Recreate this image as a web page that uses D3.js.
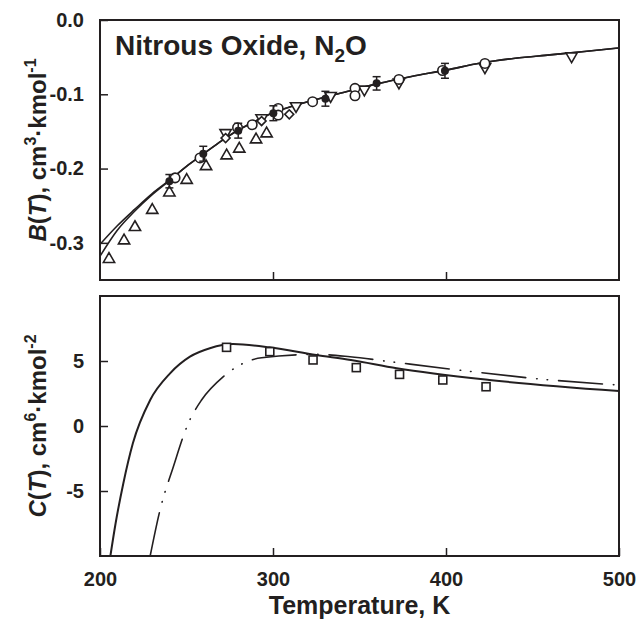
<!DOCTYPE html>
<html>
<head>
<meta charset="utf-8">
<script src="https://cdn.jsdelivr.net/npm/d3@7"></script>
<style>
  body { margin: 0; background: #fff; }
  text { font-family: "Liberation Sans", Arial, sans-serif; font-weight: bold; fill: #231f20; }
</style>
</head>
<body>
<div id="chart"></div>
<script>
// ---- data ----
var tempTicks = [200, 300, 400, 500];
var bTicks = [0, -0.1, -0.2, -0.3];
var cTicks = [5, 0, -5];

// B(T) measurements [T, B]
var bTriUp = [[205.2, -0.322], [213.9, -0.297], [220.2, -0.279], [230.2, -0.256], [240.1, -0.2325],
    [250.1, -0.2155], [261.3, -0.197], [273.2, -0.1826], [280.5, -0.1735], [290.2, -0.161], [296.3, -0.153]];
var bCircle = [[243.4, -0.2125], [257.8, -0.1857], [279.5, -0.145], [288, -0.141], [303, -0.119],
    [303, -0.128], [322.9, -0.110], [347.4, -0.092], [347.4, -0.102], [372.8, -0.080], [398, -0.068], [422.5, -0.0585]];
var bTriDown = [[272.6, -0.152], [293.4, -0.132], [313.3, -0.1157], [333.3, -0.102], [352.8, -0.0934],
    [372.8, -0.084], [422.5, -0.0635], [472.6, -0.0487]];
var bDiamond = [[272.6, -0.159], [293.4, -0.136], [309.4, -0.127]];
// filled points with error bars [T, B, err]
var bFilled = [[240.1, -0.217, 0.009], [259.7, -0.180, 0.010], [279.9, -0.149, 0.010], [300.2, -0.1255, 0.010],
    [330.3, -0.106, 0.010], [359.9, -0.0853, 0.009], [399.4, -0.0684, 0.010]];

// B(T) correlations
var bFitT = [200, 210, 220, 230, 240, 250, 260, 270, 280, 290, 300, 320, 340, 360, 380, 400, 420, 440, 460, 480, 500];
var bFitA = [-0.302, -0.277, -0.255, -0.234, -0.216, -0.197, -0.180, -0.163, -0.148, -0.136, -0.125, -0.110,
    -0.098, -0.086, -0.076, -0.0675, -0.058, -0.0515, -0.047, -0.0425, -0.0376];
var bFitB = [-0.318, -0.283, -0.2575, -0.2355, -0.2165, -0.197, -0.180, -0.163, -0.148, -0.136, -0.125, -0.110,
    -0.098, -0.086, -0.076, -0.0675, -0.058, -0.0515, -0.047, -0.0425, -0.0376];

// C(T) measurements
var cSqT = [273.15, 298.15, 323.15, 348.15, 373.15, 398.15, 423.15];
var cSqC = [6.05, 5.72, 5.08, 4.49, 3.97, 3.54, 3.02];

// C(T) correlations
var cSolidT = [206, 209, 213.5, 219, 229, 240.5, 252, 263.5, 277, 298, 325, 345, 371.5, 425, 500];
var cSolidC = [-10, -7.5, -4.4, -1.33, 2.0, 4.05, 5.33, 5.98, 6.3, 6.05, 5.46, 5.08, 4.44, 3.54, 2.69];
var cDashT = [229, 234.7, 242.4, 251, 258.7, 271.3, 281, 293.4, 325, 344.5, 367.6, 412, 456.2, 500];
var cDashC = [-10, -6.46, -3.13, 0.2, 2.0, 3.8, 4.7, 5.25, 5.51, 5.33, 4.95, 4.23, 3.59, 3.15];

// ---- layout ----
var W = 638, H = 631,
    left = 100, pw = 519, ph = 260,
    topY = 20, botY = 296;

var svg = d3.select("#chart").append("svg")
    .attr("width", W)
    .attr("height", H);

var x = d3.scaleLinear().domain([200, 500]).range([0, pw]);
var yB = d3.scaleLinear().domain([-0.35, 0]).range([ph, 0]);
var yC = d3.scaleLinear().domain([-10, 10]).range([ph, 0]);

var defs = svg.append("defs");
defs.append("clipPath").attr("id", "clip")
    .append("rect").attr("width", pw).attr("height", ph);

function hyphen(f) {
    return function (d) { return f(d).replace("\u2212", "-"); };
}

function styleAxis(g) {
    g.select(".domain").remove();
    g.selectAll(".tick line").attr("stroke", "#231f20").attr("stroke-width", 1.5);
    g.selectAll(".tick text").attr("font-size", 20).attr("fill", "#231f20")
        .style("font-family", "'Liberation Sans', Arial, sans-serif").style("font-weight", "bold");
}

// ---- top panel: B(T) ----
var gt = svg.append("g").attr("transform", "translate(" + left + "," + topY + ")");

gt.append("g")
    .call(d3.axisLeft(yB).tickValues(bTicks).tickSize(-8).tickPadding(16).tickFormat(hyphen(d3.format(".1f"))))
    .call(styleAxis);
gt.append("g")
    .attr("transform", "translate(0," + ph + ")")
    .call(d3.axisBottom(x).tickValues([300, 400]).tickSize(-8).tickFormat(""))
    .call(styleAxis);

var lineB = d3.line()
    .x(function (d) { return x(d[0]); })
    .y(function (d) { return yB(d[1]); })
    .curve(d3.curveMonotoneX);

var plotT = gt.append("g").attr("clip-path", "url(#clip)");
[bFitA, bFitB].forEach(function (vals) {
    plotT.append("path")
        .datum(bFitT.map(function (t, i) { return [t, vals[i]]; }))
        .attr("fill", "none")
        .attr("stroke", "#231f20")
        .attr("stroke-width", 1.6)
        .attr("d", lineB);
});

function markers(g, data, type, size, rot) {
    g.selectAll(null)
        .data(data)
        .enter().append("path")
        .attr("d", d3.symbol().type(type).size(size))
        .attr("transform", function (d) {
            return "translate(" + x(d[0]) + "," + yB(d[1]) + ") rotate(" + rot + ")";
        })
        .attr("fill", "#fff")
        .attr("stroke", "#231f20")
        .attr("stroke-width", 1.6);
}

markers(plotT, bTriUp, d3.symbolTriangle, 55, 0);
markers(plotT, bTriDown, d3.symbolTriangle, 55, 180);
markers(plotT, bDiamond, d3.symbolSquare, 40, 45);
markers(plotT, bCircle, d3.symbolCircle, 70, 0);

// filled points with error bars
var eb = plotT.selectAll(".eb")
    .data(bFilled)
    .enter().append("g")
    .attr("class", "eb")
    .attr("transform", function (d) { return "translate(" + x(d[0]) + ",0)"; });
eb.append("line")
    .attr("y1", function (d) { return yB(d[1] - d[2]); })
    .attr("y2", function (d) { return yB(d[1] + d[2]); })
    .attr("stroke", "#231f20").attr("stroke-width", 1.5);
eb.append("line")
    .attr("x1", -4).attr("x2", 4)
    .attr("y1", function (d) { return yB(d[1] - d[2]); })
    .attr("y2", function (d) { return yB(d[1] - d[2]); })
    .attr("stroke", "#231f20").attr("stroke-width", 1.5);
eb.append("line")
    .attr("x1", -4).attr("x2", 4)
    .attr("y1", function (d) { return yB(d[1] + d[2]); })
    .attr("y2", function (d) { return yB(d[1] + d[2]); })
    .attr("stroke", "#231f20").attr("stroke-width", 1.5);
eb.append("circle")
    .attr("cy", function (d) { return yB(d[1]); })
    .attr("r", 4)
    .attr("fill", "#231f20");

gt.append("rect")
    .attr("width", pw).attr("height", ph)
    .attr("fill", "none").attr("stroke", "#231f20").attr("stroke-width", 2);

// title
var title = gt.append("text").attr("x", 15).attr("y", 35).attr("font-size", 28);
title.append("tspan").text("Nitrous Oxide, N");
title.append("tspan").attr("font-size", 19).attr("dy", 7).text("2");
title.append("tspan").attr("dy", -7).text("O");

// ---- bottom panel: C(T) ----
var gb = svg.append("g").attr("transform", "translate(" + left + "," + botY + ")");

gb.append("g")
    .call(d3.axisLeft(yC).tickValues(cTicks).tickSize(-8).tickPadding(16).tickFormat(hyphen(d3.format("d"))))
    .call(styleAxis);
gb.append("g")
    .attr("transform", "translate(0," + ph + ")")
    .call(d3.axisBottom(x).tickValues(tempTicks).tickSize(-8).tickPadding(16).tickFormat(d3.format("d")))
    .call(styleAxis);

var lineC = d3.line()
    .x(function (d) { return x(d[0]); })
    .y(function (d) { return yC(d[1]); })
    .curve(d3.curveMonotoneX);

var plotB = gb.append("g").attr("clip-path", "url(#clip)");
plotB.append("path")
    .datum(cDashT.map(function (t, i) { return [t, cDashC[i]]; }))
    .attr("fill", "none")
    .attr("stroke", "#231f20")
    .attr("stroke-width", 1.6)
    .attr("stroke-linecap", "round")
    .attr("stroke-dasharray", "44,11,0.5,10,0.5,11")
    .attr("d", lineC);
plotB.append("path")
    .datum(cSolidT.map(function (t, i) { return [t, cSolidC[i]]; }))
    .attr("fill", "none")
    .attr("stroke", "#231f20")
    .attr("stroke-width", 2)
    .attr("d", lineC);

plotB.selectAll(".sq")
    .data(cSqT)
    .enter().append("rect")
    .attr("class", "sq")
    .attr("x", function (d) { return x(d) - 4; })
    .attr("y", function (d, i) { return yC(cSqC[i]) - 4; })
    .attr("width", 8).attr("height", 8)
    .attr("fill", "#fff")
    .attr("stroke", "#231f20")
    .attr("stroke-width", 1.6);

gb.append("rect")
    .attr("width", pw).attr("height", ph)
    .attr("fill", "none").attr("stroke", "#231f20").attr("stroke-width", 2);

// ---- axis titles ----
svg.append("text")
    .attr("x", left + pw / 2).attr("y", 614)
    .attr("text-anchor", "middle")
    .attr("font-size", 25)
    .text("Temperature, K");

function yTitle(cy, letter, sup1, sup2) {
    var t = svg.append("text")
        .attr("transform", "translate(46," + cy + ") rotate(-90)")
        .attr("text-anchor", "middle")
        .attr("font-size", 24);
    t.append("tspan").attr("font-style", "italic").text(letter);
    t.append("tspan").text("(");
    t.append("tspan").attr("font-style", "italic").text("T");
    t.append("tspan").text("), cm");
    t.append("tspan").attr("font-size", 16).attr("dy", -10).text(sup1);
    t.append("tspan").attr("dy", 10).text("\u00b7kmol");
    t.append("tspan").attr("font-size", 16).attr("dy", -10).text(sup2);
}
yTitle(topY + ph / 2, "B", "3", "-1");
yTitle(botY + ph / 2, "C", "6", "-2");
</script>
</body>
</html>
